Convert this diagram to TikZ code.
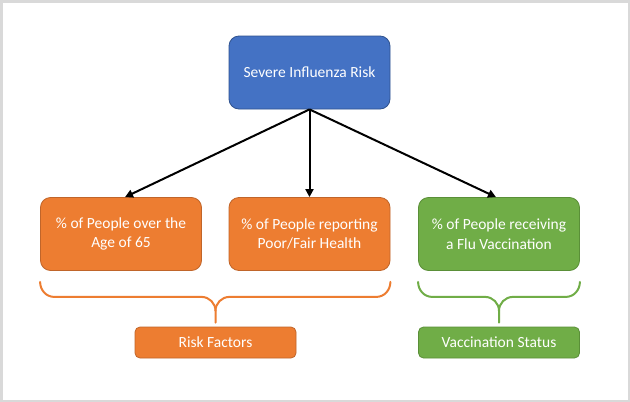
\documentclass[tikz,border=0pt]{standalone}
\usepackage{fontspec}
\setmainfont{Carlito}
\usepackage{tikz}
\usetikzlibrary{arrows.meta, positioning, calc}
\definecolor{fluBlue}{HTML}{4472C4}
\definecolor{fluBlueDk}{HTML}{2F528F}
\definecolor{fluOrange}{HTML}{ED7D31}
\definecolor{fluOrangeDk}{HTML}{C0652A}
\definecolor{fluGreen}{HTML}{70AD47}
\definecolor{fluGreenDk}{HTML}{5A8F38}
\definecolor{frameGray}{HTML}{D9D9D9}

\begin{document}
\begin{tikzpicture}[x=1pt, y=-1pt,
  font=\fontsize{15.5}{19.5}\selectfont,
  riskbox/.style={rounded corners=10pt, line width=0.8pt, text=white, align=center,
                  minimum width=161pt, minimum height=73pt, inner sep=4pt},
  tagbox/.style={rounded corners=5pt, line width=0.8pt, text=white, align=center,
                 minimum width=161pt, minimum height=31pt, inner sep=2pt},
  flow/.style={-{Triangle[length=8pt,width=8pt]}, line width=2pt, black},
  brace/.style={line width=2pt, line cap=round},
]
  % frame
  \fill[frameGray] (0,0) rectangle (630,402);
  \fill[white] (2.5,3) rectangle (627.5,399.5);
  \useasboundingbox (0,0) rectangle (630,402);

  \def\yt{72.5}\def\ym{234}\def\yb{342.5}
  \node[riskbox, fill=fluBlue, draw=fluBlueDk] (top) at (309.5,\yt) {Severe Influenza Risk};
  \node[riskbox, fill=fluOrange, draw=fluOrangeDk] (age) at (121,\ym) {\% of People over the\\Age of 65};
  \node[riskbox, fill=fluOrange, draw=fluOrangeDk] (poor) at (309.5,\ym) {\% of People reporting\\Poor/Fair Health};
  \node[riskbox, fill=fluGreen, draw=fluGreenDk] (vacc) at (499,\ym) {\% of People receiving\\a Flu Vaccination};
  \node[tagbox, fill=fluOrange, draw=fluOrangeDk] (rf) at (215.5,\yb) {Risk Factors};
  \node[tagbox, fill=fluGreen, draw=fluGreenDk] (vs) at (499,\yb) {Vaccination Status};

  \draw[flow] (top.south) -- ([xshift=4pt]age.north);
  \draw[flow] (top.south) -- (poor.north);
  \draw[flow] (top.south) -- ([xshift=-3pt]vacc.north);

  % braces
  \foreach \l/\r/\t/\c in {age/poor/rf/fluOrange, vacc/vacc/vs/fluGreen}{
    \coordinate (bl) at ([yshift=-11pt]\l.south west);
    \coordinate (br) at ([yshift=-11pt]\r.south east);
    \coordinate (tip) at ([yshift=4pt]\t.north);
    \draw[brace, draw=\c] (bl) to[out=-90,in=180] ($(bl)+(14pt,-15pt)$)
      -- ($(tip|-bl)+(-14pt,-15pt)$) to[out=0,in=90] ($(tip|-bl)+(0,-29pt)$) -- (tip);
    \draw[brace, draw=\c] (br) to[out=-90,in=0] ($(br)+(-14pt,-15pt)$)
      -- ($(tip|-br)+(14pt,-15pt)$) to[out=180,in=90] ($(tip|-br)+(0,-29pt)$);
  }
\end{tikzpicture}
\end{document}
